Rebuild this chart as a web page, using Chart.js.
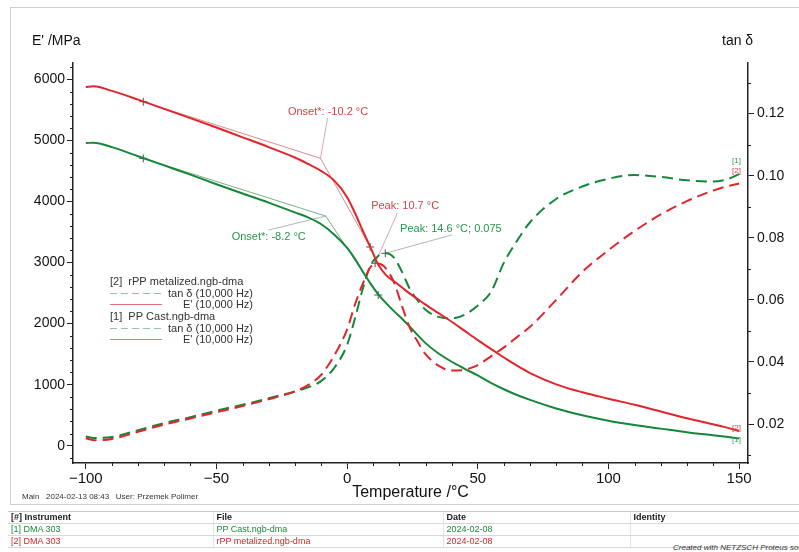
<!DOCTYPE html>
<html><head><meta charset="utf-8">
<script src="https://cdn.jsdelivr.net/npm/chart.js@4/dist/chart.umd.min.js"></script>
<style>
html,body{margin:0;padding:0;background:#fff;}
body{width:799px;height:552px;position:relative;overflow:hidden;font-family:"Liberation Sans",Arial,sans-serif;}
#frame{position:absolute;left:10px;top:7px;width:789px;height:498px;border:1px solid #d0d0d0;border-right:none;box-sizing:border-box;}
#c{position:absolute;left:0;top:0;}
#info{position:absolute;left:22px;top:492px;font-size:8px;color:#333;white-space:pre;}
#tbl{position:absolute;left:8px;top:511px;width:791px;border-collapse:collapse;font-size:9px;table-layout:fixed;}
#tbl td{height:11px;padding:0 3px;border-bottom:1px solid #d8d8d8;white-space:nowrap;overflow:hidden;line-height:11px;}
#tbl tr:first-child td{border-top:1px solid #c8c8c8;color:#222;font-weight:bold;}
#tbl td+td{border-left:1px solid #e4e4e4;}
.g td{color:#1a8a3a;} .r td{color:#d8262b;}
#made{position:absolute;left:673px;top:543px;font-size:8px;font-style:italic;color:#333;white-space:nowrap;}
</style></head>
<body>
<div id="frame"></div>
<canvas id="c" width="799" height="505"></canvas>
<div id="info">Main   2024-02-13 08:43   User: Przemek Polimer</div>
<table id="tbl">
<colgroup><col style="width:205px"><col style="width:230px"><col style="width:187px"><col style="width:169px"></colgroup>
<tr><td>[#] Instrument</td><td>File</td><td>Date</td><td>Identity</td></tr>
<tr class="g"><td>[1] DMA 303</td><td>PP Cast.ngb-dma</td><td>2024-02-08</td><td></td></tr>
<tr class="r"><td>[2] DMA 303</td><td>rPP metalized.ngb-dma</td><td>2024-02-08</td><td></td></tr>
</table>
<div id="made">Created with NETZSCH Proteus software</div>
<script>
// ---- data ----
const temps = [-100,-97,-90,-80,-70,-60,-50,-40,-30,-20,-15,-10,-5,0,3,6,9,12,15,18,21,24,27,30,35,40,45,50,55,60,65,70,80,90,100,110,120,130,140,145,150];
const rPP_E = [5875,5885,5810,5668,5515,5365,5210,5050,4890,4720,4615,4500,4345,4070,3810,3520,3240,2960,2790,2690,2590,2490,2400,2310,2170,2030,1880,1730,1585,1445,1310,1190,1005,875,770,670,560,450,350,300,240];
const PP_E = [4957,4962,4890,4740,4590,4440,4282,4130,3980,3820,3740,3630,3460,3240,3060,2850,2650,2475,2330,2200,2080,1950,1810,1680,1510,1375,1260,1150,1030,925,830,750,610,500,410,340,280,220,170,145,120];
const rPP_tan = [0.0154,0.0148,0.0152,0.0175,0.0198,0.0218,0.0238,0.0258,0.0280,0.0305,0.0325,0.0358,0.0420,0.0505,0.0585,0.0652,0.0706,0.0716,0.0700,0.0655,0.0580,0.0510,0.0465,0.0425,0.0388,0.0372,0.0375,0.0390,0.0418,0.0447,0.0480,0.0513,0.0600,0.0690,0.0760,0.0822,0.0875,0.0918,0.0952,0.0965,0.0975];
const PP_tan = [0.0160,0.0155,0.0158,0.0180,0.0203,0.0222,0.0243,0.0262,0.0283,0.0305,0.0318,0.0338,0.0380,0.0455,0.0540,0.0636,0.0712,0.0742,0.0750,0.0735,0.0690,0.0635,0.0598,0.0568,0.0545,0.0540,0.0552,0.0582,0.0625,0.0720,0.0790,0.0850,0.0925,0.0965,0.0990,0.1002,0.0996,0.0985,0.0981,0.0987,0.1005];
// evaluation constructions (temperature, value)
const redOnsetT = [-78,-10.2,8.8];   const redOnsetE = [5633,4706,3254];
const greenOnsetT = [-78,-8.2,11.9]; const greenOnsetE = [4706,3761,2468];
const redPeak = [10.7,0.0718];
const greenPeak = [14.6,0.075];
// tick labels
const xTickValues = [-100,-50,0,50,100,150];
const eTickValues = [0,1000,2000,3000,4000,5000,6000];
const tanTickValues = [0.02,0.04,0.06,0.08,0.10,0.12];

const RED='#e2242b', GREEN='#14873a';
const pts=(xs,ys)=>xs.map((x,i)=>({x:x,y:ys[i]}));
Chart.defaults.font.family="'Liberation Sans', Arial, sans-serif";

const thin=(data,color,axis)=>({data,borderColor:color,borderWidth:1,pointRadius:0,tension:0,yAxisID:axis,order:5});

const minorTicks={id:'minorTicks',afterDraw(ch){
  const c=ch.ctx,x=ch.scales.x,y=ch.scales.y,y1=ch.scales.y1;
  c.save();c.strokeStyle='#222';c.lineWidth=1;c.beginPath();
  for(let v=-100;v<=150;v+=10){if(v%50===0)continue;const p=Math.round(x.getPixelForValue(v))+0.5;c.moveTo(p,x.top);c.lineTo(p,x.top+3);}
  for(let v=-200;v<=6200;v+=200){if(v%1000===0)continue;const p=Math.round(y.getPixelForValue(v))+0.5;c.moveTo(y.right,p);c.lineTo(y.right-3,p);}
  for(let k=1;k<=13;k+=2){const p=Math.round(y1.getPixelForValue(k/100))+0.5;c.moveTo(y1.left,p);c.lineTo(y1.left+3,p);}
  c.stroke();c.restore();
}};

const texts={id:'texts',afterDraw(ch){
  const c=ch.ctx,x=ch.scales.x,y=ch.scales.y,y1=ch.scales.y1;
  c.save();
  c.font="14px 'Liberation Sans', Arial";c.fillStyle='#111';c.textBaseline='middle';
  c.textAlign='left';c.fillText("E' /MPa",32,41);c.fillText('tan \u03b4',722,41);
  // evaluation labels
  c.font="11px 'Liberation Sans', Arial";c.textAlign='center';
  c.fillStyle='#d9404a';
  c.fillText('Onset*: -10.2 \u00b0C',x.getPixelForValue(-7.3),y.getPixelForValue(5464));
  c.fillText('Peak: 10.7 \u00b0C',x.getPixelForValue(22.2),y1.getPixelForValue(0.0902));
  c.fillStyle='#27964a';
  c.fillText('Onset*: -8.2 \u00b0C',x.getPixelForValue(-30),y.getPixelForValue(3422));
  c.fillText('Peak: 14.6 \u00b0C; 0.075',x.getPixelForValue(39.7),y1.getPixelForValue(0.0829));
  // curve tags
  c.font="8px 'Liberation Sans', Arial";
  const ex=x.getPixelForValue(149);
  c.fillStyle='#3a9a5a';c.fillText('[1]',ex,y1.getPixelForValue(PP_tan[PP_tan.length-1])-13);
  c.fillStyle='#d9404a';c.fillText('[2]',ex,y1.getPixelForValue(PP_tan[PP_tan.length-1])-3);
  c.fillStyle='#d9404a';c.fillText('[2]',ex,y.getPixelForValue(rPP_E[rPP_E.length-1])-3);
  c.fillStyle='#3a9a5a';c.fillText('[1]',ex,y.getPixelForValue(PP_E[PP_E.length-1])+1);
  // legend
  c.font="11px 'Liberation Sans', Arial";c.fillStyle='#333';
  const L=[['[2]  rPP metalized.ngb-dma',null,282],['tan \u03b4 (10,000 Hz)','#e59aa2',293,true],["E' (10,000 Hz)",'#dc6f78',304,false],
           ['[1]  PP Cast.ngb-dma',null,317],['tan \u03b4 (10,000 Hz)','#93c3b0',328,true],["E' (10,000 Hz)",'#6fb47e',339,false]];
  L.forEach(r=>{
    if(!r[1]){c.textAlign='left';c.fillStyle='#333';c.fillText(r[0],110,r[2]);return;}
    c.strokeStyle=r[1];c.lineWidth=1;c.setLineDash(r[3]?[7,4]:[]);c.beginPath();c.moveTo(110,r[2]+0.5);c.lineTo(162,r[2]+0.5);c.stroke();c.setLineDash([]);
    c.textAlign='right';c.fillStyle='#333';c.fillText(r[0],253,r[2]+1);
  });
  c.restore();
}};

new Chart(document.getElementById('c'),{
  type:'line',
  data:{datasets:[
    {label:"rPP E'",data:pts(temps,rPP_E),borderColor:RED,borderWidth:2,pointRadius:0,cubicInterpolationMode:'monotone',yAxisID:'y'},
    {label:"rPP tan",data:pts(temps,rPP_tan),borderColor:RED,borderWidth:2,borderDash:[11,6],pointRadius:0,cubicInterpolationMode:'monotone',yAxisID:'y1'},
    {label:"PP E'",data:pts(temps,PP_E),borderColor:GREEN,borderWidth:2,pointRadius:0,cubicInterpolationMode:'monotone',yAxisID:'y'},
    {label:"PP tan",data:pts(temps,PP_tan),borderColor:GREEN,borderWidth:2,borderDash:[11,6],pointRadius:0,cubicInterpolationMode:'monotone',yAxisID:'y1'},
    thin(pts(redOnsetT,redOnsetE),'rgba(205,120,130,0.85)','y'),
    thin([{x:redOnsetT[1],y:redOnsetE[1]},{x:-7.5,y:5360}],'rgba(215,160,165,0.9)','y'),
    thin(pts(greenOnsetT,greenOnsetE),'rgba(110,165,125,0.9)','y'),
    thin([{x:greenOnsetT[1],y:greenOnsetE[1]},{x:-30.1,y:3532}],'rgba(160,180,165,0.9)','y'),
    thin([{x:redPeak[0],y:redPeak[1]},{x:19.25,y:0.088}],'rgba(215,160,165,0.9)','y1'),
    thin([{x:greenPeak[0],y:greenPeak[1]},{x:40.07,y:0.0809}],'rgba(165,175,170,0.9)','y1'),
    {data:[{x:redOnsetT[0],y:redOnsetE[0]},{x:redOnsetT[2],y:redOnsetE[2]},{x:greenOnsetT[0],y:greenOnsetE[0]},{x:greenOnsetT[2],y:greenOnsetE[2]}],
     showLine:false,pointStyle:'cross',pointRadius:4,borderColor:'#555',borderWidth:1,yAxisID:'y'},
    {data:[{x:redPeak[0],y:redPeak[1]},{x:greenPeak[0],y:greenPeak[1]}],showLine:false,pointStyle:'cross',pointRadius:4,borderColor:'#555',borderWidth:1,yAxisID:'y1'}
  ]},
  options:{responsive:false,animation:false,devicePixelRatio:1,
    layout:{padding:{top:63,left:0,right:0,bottom:0}},
    plugins:{legend:{display:false},tooltip:{enabled:false}},
    scales:{
      x:{type:'linear',position:'bottom',min:-104.9,max:153.4,
        afterFit:s=>{s.height=42;},
        afterBuildTicks:s=>{s.ticks=xTickValues.map(v=>({value:v}));},
        ticks:{font:{size:15},color:'#111',padding:1,maxRotation:0,autoSkip:false,callback:v=>v<0?'\u2212'+Math.abs(v):String(v)},
        grid:{drawOnChartArea:false,tickLength:6,color:'#222'},border:{color:'#222',width:1.5},
        title:{display:true,text:'Temperature /\u00b0C',font:{size:16},color:'#111',padding:{top:0,bottom:3}}},
      y:{position:'left',min:-283,max:6267,
        afterFit:s=>{s.width=73;},
        afterBuildTicks:s=>{s.ticks=eTickValues.map(v=>({value:v}));},
        ticks:{autoSkip:false,font:{size:14},color:'#111',padding:2,callback:v=>String(v)},
        grid:{drawOnChartArea:false,tickLength:6,color:'#222'},border:{color:'#222',width:1.5}},
      y1:{position:'right',min:0.00744,max:0.1363,
        afterFit:s=>{s.width=51;},
        afterBuildTicks:s=>{s.ticks=tanTickValues.map(v=>({value:v}));},
        ticks:{autoSkip:false,font:{size:14},color:'#111',padding:3,callback:v=>Number(v).toFixed(2)},
        grid:{drawOnChartArea:false,tickLength:6,color:'#222'},border:{color:'#222',width:1.5}}
    }},
  plugins:[minorTicks,texts]
});
</script>
</body></html>
